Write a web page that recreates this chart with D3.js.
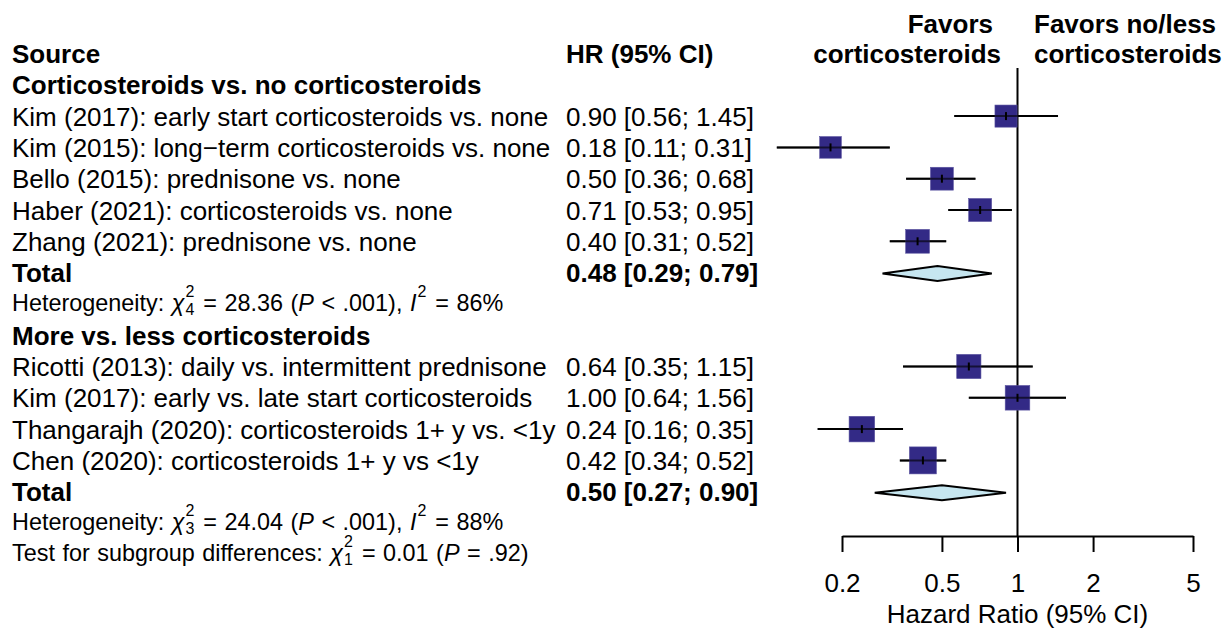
<!DOCTYPE html>
<html>
<head>
<meta charset="utf-8">
<script src="https://cdn.jsdelivr.net/npm/d3@7"></script>
<style>
  body { margin: 0; background: #fff; }
  svg { font-family: "Liberation Sans", Arial, Helvetica, sans-serif; }
</style>
</head>
<body>
<div id="chart"></div>
<script>
// studies, grouped
const groups = [
  { label: "Corticosteroids vs. no corticosteroids",
    studies: ["Kim (2017): early start corticosteroids vs. none",
              "Kim (2015): long\u2212term corticosteroids vs. none",
              "Bello (2015): prednisone vs. none",
              "Haber (2021): corticosteroids vs. none",
              "Zhang (2021): prednisone vs. none"],
    het: { df: "4", chi: "28.36", p: "< .001", i2: "86%" } },
  { label: "More vs. less corticosteroids",
    studies: ["Ricotti (2013): daily vs. intermittent prednisone",
              "Kim (2017): early vs. late start corticosteroids",
              "Thangarajh (2020): corticosteroids 1+ y vs. <1y",
              "Chen (2020): corticosteroids 1+ y vs <1y"],
    het: { df: "3", chi: "24.04", p: "< .001", i2: "88%" } }
];
const hr    = [[0.90, 0.18, 0.50, 0.71, 0.40], [0.64, 1.00, 0.24, 0.42]];
const lower = [[0.56, 0.11, 0.36, 0.53, 0.31], [0.35, 0.64, 0.16, 0.34]];
const upper = [[1.45, 0.31, 0.68, 0.95, 0.52], [1.15, 1.56, 0.35, 0.52]];
const weights = [[19.0, 18.2, 20.3, 20.5, 22.0], [22.8, 23.5, 25.4, 28.3]];
const totals = [{ hr: 0.48, lo: 0.29, hi: 0.79 }, { hr: 0.50, lo: 0.27, hi: 0.90 }];
const subgroupTest = { df: "1", chi: "0.01", p: "= .92" };
const ticks = [0.2, 0.5, 1, 2, 5];

const width = 1223, height = 630;
const fs = 26, fsSmall = 23.4, fsScript = 16;
const col = { label: 12, hr: 566 };
const rowStep = 31.3, firstBase = 63;
const base = i => firstBase + i * rowStep;
const mid = i => base(i) - 9.5;
const fmt = d3.format(".2f");
const ci = (a, b, c) => `${fmt(a)} [${fmt(b)}; ${fmt(c)}]`;

const svg = d3.select("#chart").append("svg")
  .attr("width", width).attr("height", height);

const x = d3.scaleLog().domain([0.2, 5]).range([842, 1193]);
const size = d3.scaleSqrt().domain([0, 28.3]).range([0, 27]);

// build rows
const rows = [];
let r = 1;
groups.forEach((g, gi) => {
  rows.push({ type: "group", i: r++, text: g.label });
  g.studies.forEach((s, si) => {
    rows.push({ type: "study", i: r++, text: s, hr: hr[gi][si], lo: lower[gi][si],
                hi: upper[gi][si], w: weights[gi][si] });
  });
  rows.push({ type: "total", i: r++, text: "Total", ...totals[gi] });
  rows.push({ type: "het", i: r++, het: g.het });
});
const testRow = r;

// header
svg.append("text").attr("x", col.label).attr("y", base(0))
  .attr("font-size", fs).attr("font-weight", "bold").text("Source");
svg.append("text").attr("x", col.hr).attr("y", base(0))
  .attr("font-size", fs).attr("font-weight", "bold").text("HR (95% CI)");

const fav = svg.append("g").attr("font-size", fs).attr("font-weight", "bold");
fav.append("text").attr("x", 993).attr("y", base(0) - 30).attr("text-anchor", "end").text("Favors");
fav.append("text").attr("x", 1001).attr("y", base(0)).attr("text-anchor", "end").text("corticosteroids");
fav.append("text").attr("x", 1034).attr("y", base(0) - 30).text("Favors no/less");
fav.append("text").attr("x", 1034).attr("y", base(0)).text("corticosteroids");

// left text
rows.filter(d => d.type !== "het").forEach(d => {
  const bold = d.type !== "study";
  svg.append("text").attr("x", col.label).attr("y", base(d.i))
    .attr("font-size", fs).attr("font-weight", bold ? "bold" : "normal").text(d.text);
  if (d.type !== "group") {
    svg.append("text").attr("x", col.hr).attr("y", base(d.i))
      .attr("font-size", fs).attr("font-weight", bold ? "bold" : "normal")
      .text(ci(d.hr, d.lo, d.hi));
  }
});

// heterogeneity lines with chi-square notation
function statLine(y, lead, h, withI2) {
  const parts = [
    { t: lead }, { t: "\u03c7", it: true }, { sup: "2", sub: h.df },
    { t: " = " + h.chi + " (" }, { t: "P", it: true }, { t: " " + h.p + ")" }
  ];
  if (withI2) parts.push({ t: ", " }, { t: "I", it: true }, { sup: "2" }, { t: " = " + h.i2 });
  const line = svg.append("text").attr("font-size", fsSmall).style("word-spacing", "1px")
    .attr("x", col.label).attr("y", y).attr("xml:space", "preserve");
  let back = 0; // dy still owed to get back to the baseline
  parts.forEach(p => {
    if (p.t !== undefined) {
      line.append("tspan").attr("font-style", p.it ? "italic" : null)
        .attr("dy", back || null).attr("dx", back ? 1.5 : null).text(p.t);
      back = 0;
    } else {
      // stacked super/subscript
      line.append("tspan").attr("font-size", fsScript).attr("dy", -14).attr("dx", 1).text(p.sup);
      back = 14;
      if (p.sub) {
        line.append("tspan").attr("font-size", fsScript).attr("dy", 18)
          .attr("dx", -fsScript * 0.556).text(p.sub);
        back = -4;
      }
    }
  });
}
rows.filter(d => d.type === "het").forEach(d => statLine(base(d.i) - 2.5, "Heterogeneity: ", d.het, true));
statLine(base(testRow) - 2.5, "Test for subgroup differences: ", subgroupTest, false);

// reference line
const axisY = 536;
svg.append("line").attr("x1", x(1)).attr("x2", x(1)).attr("y1", 68).attr("y2", axisY)
  .attr("stroke", "#000").attr("stroke-width", 2);

// studies
const st = svg.append("g").selectAll("g").data(rows.filter(d => d.type === "study")).join("g");
st.append("line").attr("x1", d => x(d.lo)).attr("x2", d => x(d.hi))
  .attr("y1", d => mid(d.i)).attr("y2", d => mid(d.i)).attr("stroke", "#000").attr("stroke-width", 2);
st.append("rect")
  .attr("x", d => x(d.hr) - size(d.w) / 2).attr("y", d => mid(d.i) - size(d.w) / 2)
  .attr("width", d => size(d.w)).attr("height", d => size(d.w))
  .attr("fill", "#332a86").attr("stroke", "#5b54a0").attr("stroke-width", 0.6);
st.append("line").attr("x1", d => x(d.hr)).attr("x2", d => x(d.hr))
  .attr("y1", d => mid(d.i) - 4).attr("y2", d => mid(d.i) + 4).attr("stroke", "#000").attr("stroke-width", 2);
st.append("line").attr("x1", d => x(d.lo)).attr("x2", d => x(d.hi))
  .attr("y1", d => mid(d.i)).attr("y2", d => mid(d.i)).attr("stroke", "#000").attr("stroke-width", 2)
  .attr("stroke-opacity", 0.6);

// totals (diamonds)
svg.append("g").selectAll("path").data(rows.filter(d => d.type === "total")).join("path")
  .attr("d", d => {
    const y = mid(d.i) + 1;
    return `M${x(d.lo)},${y}L${x(d.hr)},${y - 7.5}L${x(d.hi)},${y}L${x(d.hr)},${y + 7.5}Z`;
  })
  .attr("fill", "#c6e6f0").attr("stroke", "#000").attr("stroke-width", 2);

// axis
const ax = svg.append("g").attr("transform", `translate(0,${axisY})`)
  .call(d3.axisBottom(x).tickValues(ticks).tickFormat(d3.format("")).tickSize(16).tickSizeOuter(0).tickPadding(22));
ax.select(".domain").attr("stroke-width", 2);
ax.selectAll(".tick line").attr("stroke-width", 2);
ax.attr("font-size", fs).attr("font-family", "'Liberation Sans', Arial, sans-serif");
svg.append("text").attr("x", x(1)).attr("y", 623).attr("text-anchor", "middle")
  .attr("font-size", fs).text("Hazard Ratio (95% CI)");
</script>
</body>
</html>
